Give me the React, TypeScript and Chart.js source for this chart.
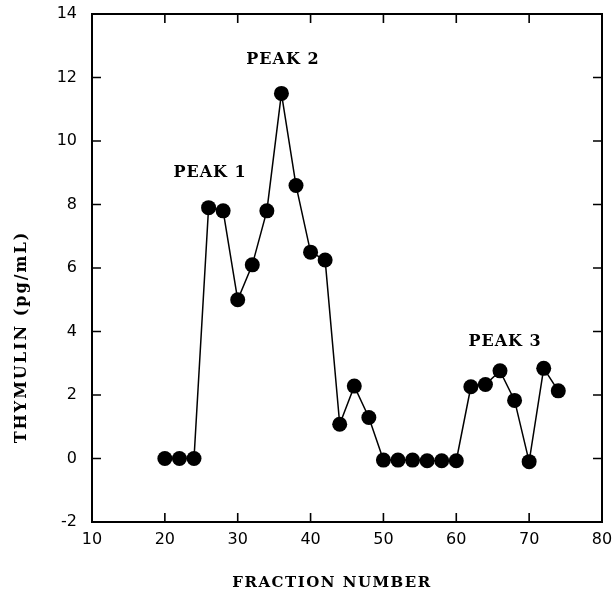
import React, { useEffect, useRef } from 'react';
import { Chart, registerables } from 'chart.js';
Chart.register(...registerables);

const fractions = [20, 22, 24, 26, 28, 30, 32, 34, 36, 38, 40, 42, 44, 46, 48, 50, 52, 54, 56, 58, 60, 62, 64, 66, 68, 70, 72, 74];
const thymulin = [0, 0, 0, 7.9, 7.8, 5.0, 6.1, 7.8, 11.5, 8.6, 6.5, 6.25, 1.08, 2.28, 1.29, -0.05, -0.05, -0.05, -0.07, -0.07, -0.07, 2.26, 2.33, 2.76, 1.83, -0.1, 2.84, 2.13];
const peakLabels = ['PEAK 1', 'PEAK 2', 'PEAK 3'];
const peakX = [26.2, 36.2, 66.7];
const peakY = [9.0, 12.55, 3.67];
const xTitle = 'FRACTION NUMBER';
const yTitle = 'THYMULIN (pg/mL)';

const frameTicks = {
  id: 'frameTicks',
  afterDraw(chart: any) {
    const { ctx, chartArea: a, scales } = chart;
    const xs = scales.x, ys = scales.y;
    ctx.save();
    ctx.strokeStyle = '#000';
    ctx.lineWidth = 2;
    ctx.strokeRect(a.left, a.top, a.right - a.left, a.bottom - a.top);
    ctx.lineWidth = 1.6;
    const tl = 9;
    ctx.beginPath();
    xs.ticks.forEach((t: any) => {
      const px = xs.getPixelForValue(t.value);
      if (px <= a.left + 1 || px >= a.right - 1) return;
      ctx.moveTo(px, a.bottom); ctx.lineTo(px, a.bottom - tl);
      ctx.moveTo(px, a.top); ctx.lineTo(px, a.top + tl);
    });
    ys.ticks.forEach((t: any) => {
      const py = ys.getPixelForValue(t.value);
      if (py <= a.top + 1 || py >= a.bottom - 1) return;
      ctx.moveTo(a.left, py); ctx.lineTo(a.left + tl, py);
      ctx.moveTo(a.right, py); ctx.lineTo(a.right - tl, py);
    });
    ctx.stroke();

    ctx.fillStyle = '#000';
    ctx.textAlign = 'center';
    ctx.textBaseline = 'middle';
    (ctx as any).letterSpacing = '1px';
    ctx.font = 'bold 16px "DejaVu Serif"';
    peakLabels.forEach((s, i) => {
      ctx.fillText(s, xs.getPixelForValue(peakX[i]), ys.getPixelForValue(peakY[i]));
    });
    (ctx as any).letterSpacing = '1.5px';
    ctx.font = 'bold 15px "DejaVu Serif"';
    ctx.fillText(xTitle, 332, 583);
    (ctx as any).letterSpacing = '2px';
    ctx.font = 'bold 16px "DejaVu Serif"';
    ctx.translate(22, 337);
    ctx.rotate(-Math.PI / 2);
    ctx.fillText(yTitle, 0, 0);
    ctx.restore();
  },
};

export default function App() {
  const ref = useRef<HTMLCanvasElement>(null);
  useEffect(() => {
    const chart = new Chart(ref.current!, {
      type: 'line',
      data: {
        datasets: [{
          data: fractions.map((f, i) => ({ x: f, y: thymulin[i] })),
          borderColor: '#000',
          backgroundColor: '#000',
          borderWidth: 1.5,
          pointRadius: 7.5,
          pointBorderWidth: 0,
          pointBackgroundColor: '#000',
          tension: 0,
        }],
      },
      options: {
        animation: false,
        responsive: false,
        layout: { padding: { left: 0, right: 13, top: 14, bottom: 0 } },
        plugins: { legend: { display: false }, tooltip: { enabled: false } },
        scales: {
          x: {
            type: 'linear', min: 10, max: 80,
            ticks: { stepSize: 10, color: '#000', font: { family: 'DejaVu Sans', size: 16 }, padding: 8 },
            grid: { display: false, drawTicks: false },
            border: { display: false },
            afterFit(s: any) { s.height = 73; s.paddingLeft = 0; s.paddingRight = 0; },
          },
          y: {
            type: 'linear', min: -2, max: 14,
            ticks: { stepSize: 2, color: '#000', font: { family: 'DejaVu Sans', size: 16 }, padding: 15 },
            grid: { display: false, drawTicks: false },
            border: { display: false },
            afterFit(s: any) { s.width = 92; s.paddingTop = 0; s.paddingBottom = 0; },
          },
        },
      },
      plugins: [frameTicks],
    });
    return () => chart.destroy();
  }, []);
  return (
    <div style={{ position: 'absolute', left: 0, top: 0, width: 615, height: 595 }}>
      <canvas ref={ref} width={615} height={595} style={{ display: 'block' }} />
    </div>
  );
}
